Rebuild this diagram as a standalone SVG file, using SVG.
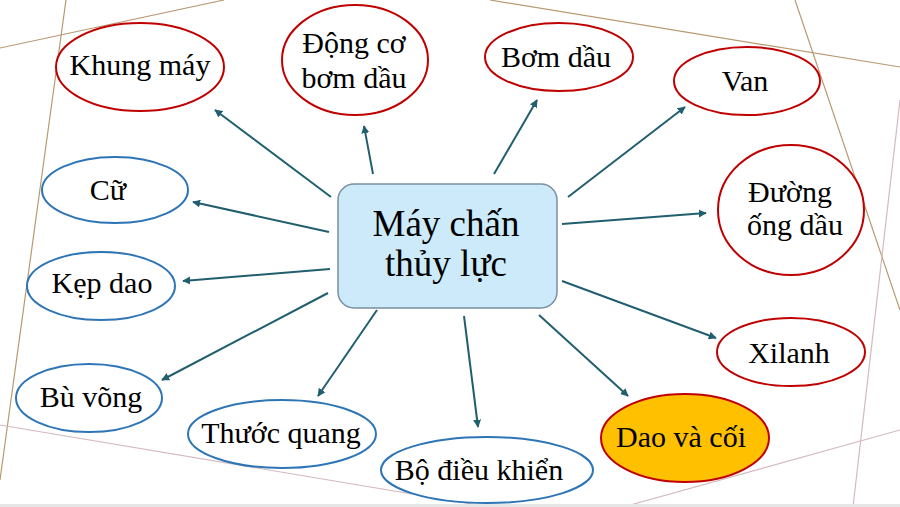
<svg xmlns="http://www.w3.org/2000/svg" width="900" height="507" viewBox="0 0 900 507">
<style>
.t{font-family:"Liberation Serif","Times New Roman",serif;font-size:30px;fill:#000;text-anchor:middle}
.c{font-size:37px}
.r{fill:#fff;stroke:#c00000;stroke-width:2}
.b{fill:#fff;stroke:#2e75b6;stroke-width:2}
.bg1{stroke:#b89a72;stroke-width:1.2;fill:none}
.bg2{stroke:#d4b9be;stroke-width:1.2;fill:none}
.a{stroke:#215f6e;stroke-width:2;fill:none;marker-end:url(#ah)}
</style>
<defs>
<marker id="ah" viewBox="0 0 10 10" refX="9" refY="5" markerWidth="4" markerHeight="4" orient="auto" markerUnits="strokeWidth">
<path d="M0,0 L10,5 L0,10 z" fill="#215f6e"/>
</marker>
</defs>
<rect width="900" height="507" fill="#fff"/>
<g id="background">
<line class="bg1" x1="0" y1="48" x2="224" y2="0"/>
<line class="bg1" x1="66" y1="0" x2="0" y2="480"/>
<line class="bg1" x1="490" y1="0" x2="900" y2="67"/>
<line class="bg1" x1="795" y1="0" x2="900" y2="310"/>
<line class="bg2" x1="900" y1="100" x2="853" y2="507"/>
<line class="bg2" x1="0" y1="425" x2="490" y2="507"/>
<line class="bg2" x1="623" y1="507" x2="900" y2="430"/>
<rect x="0" y="504" width="900" height="3" fill="#e6e6e6"/>
</g>
<g id="connectors">
<line class="a" x1="331" y1="197" x2="215" y2="110"/>
<line class="a" x1="373" y1="174" x2="364" y2="126"/>
<line class="a" x1="329" y1="232" x2="193" y2="202"/>
<line class="a" x1="494" y1="174" x2="537" y2="100"/>
<line class="a" x1="568" y1="197" x2="685" y2="107"/>
<line class="a" x1="562" y1="224" x2="706" y2="213"/>
<line class="a" x1="330" y1="269" x2="183" y2="281"/>
<line class="a" x1="328" y1="293" x2="162" y2="380"/>
<line class="a" x1="377" y1="310" x2="318" y2="396"/>
<line class="a" x1="464" y1="316" x2="478" y2="427"/>
<line class="a" x1="539" y1="315" x2="628" y2="396"/>
<line class="a" x1="562" y1="281" x2="716" y2="338"/>
</g>
<g id="center">
<rect x="338" y="184" width="219" height="124" rx="16" fill="#cdeafa" stroke="#7a8ea0" stroke-width="1.5"/>
<text class="t c" x="446" y="236">Máy chấn</text>
<text class="t c" x="446" y="276">thủy lực</text>
</g>
<g id="khung-may">
<ellipse class="r" cx="140" cy="67" rx="84" ry="44"/>
<text class="t" x="140" y="75">Khung máy</text>
</g>
<g id="dong-co">
<ellipse class="r" cx="355" cy="60" rx="73" ry="55"/>
<text class="t" x="354" y="53">Động cơ</text>
<text class="t" x="354" y="88">bơm dầu</text>
</g>
<g id="bom-dau">
<ellipse class="r" cx="559" cy="57" rx="74" ry="34"/>
<text class="t" x="556" y="67">Bơm dầu</text>
</g>
<g id="van">
<ellipse class="r" cx="747" cy="81" rx="73" ry="34"/>
<text class="t" x="745" y="91">Van</text>
</g>
<g id="duong-ong">
<ellipse class="r" cx="791" cy="210" rx="73" ry="65"/>
<text class="t" x="790" y="202">Đường</text>
<text class="t" x="795" y="235">ống dầu</text>
</g>
<g id="xilanh">
<ellipse class="r" cx="791" cy="352" rx="74" ry="34"/>
<text class="t" x="789" y="363">Xilanh</text>
</g>
<g id="dao-coi">
<ellipse cx="685" cy="438" rx="84" ry="44" fill="#ffc000" stroke="#c00000" stroke-width="2"/>
<text class="t" x="681" y="447">Dao và cối</text>
</g>
<g id="bo-dieu-khien">
<ellipse class="b" cx="487" cy="470" rx="106" ry="33"/>
<text class="t" x="479" y="480">Bộ điều khiển</text>
</g>
<g id="thuoc-quang">
<ellipse class="b" cx="282" cy="434" rx="94" ry="34"/>
<text class="t" x="281" y="443">Thước quang</text>
</g>
<g id="bu-vong">
<ellipse class="b" cx="89" cy="398" rx="73" ry="34"/>
<text class="t" x="91" y="407">Bù võng</text>
</g>
<g id="kep-dao">
<ellipse class="b" cx="101" cy="286" rx="74" ry="34"/>
<text class="t" x="102" y="293">Kẹp dao</text>
</g>
<g id="cu">
<ellipse class="b" cx="115" cy="190" rx="73" ry="33"/>
<text class="t" x="108" y="200">Cữ</text>
</g>
</svg>
